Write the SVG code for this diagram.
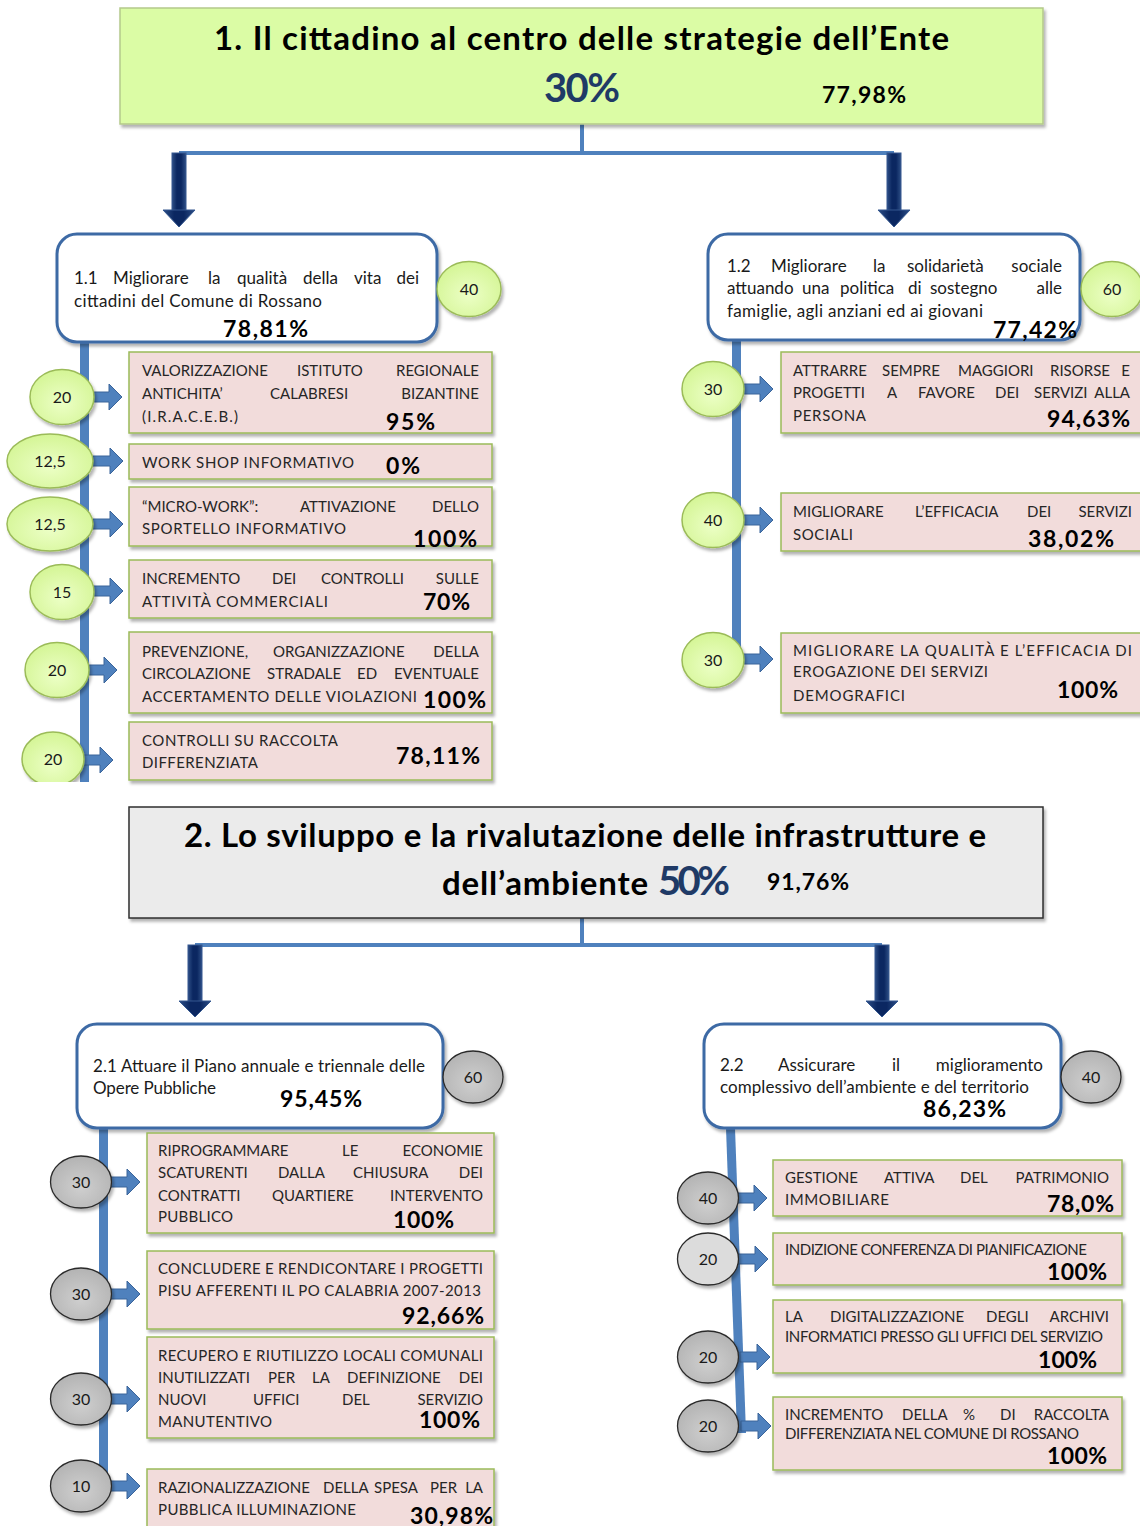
<svg xmlns="http://www.w3.org/2000/svg" width="1140" height="1526" viewBox="0 0 1140 1526">
<style>
text{font-family:Lato,"Liberation Sans",sans-serif}
.t{font-size:15px;fill:#262626}
.m{font-size:17px;fill:#1a1a1a}
.p{font-size:23px;font-weight:700;fill:#000}
.ttl{font-size:33px;font-weight:700;fill:#000}
.big{font-size:40px;font-weight:700;fill:#1f3a66}
.ct{font-size:16px;fill:#1a1a1a;text-anchor:middle}
.e{text-anchor:end}
.pink{fill:#f2dcdb;stroke:#9bbb59;stroke-width:1.5}
.wb{fill:#fff;stroke:#3d6aa5;stroke-width:3}
.gc{fill:url(#gg);stroke:#9bbb59;stroke-width:1.5}
.yc{fill:url(#gy);stroke:#2a2a2a;stroke-width:1.3}
.yl{fill:#dcdcdc;stroke:#2a2a2a;stroke-width:1.3}
.bar{fill:#4f81bd}
.sa{fill:#4f81bd;stroke:#3a649a;stroke-width:1}
.ln{stroke:#4f81bd;stroke-width:4;fill:none}
.da{fill:url(#gd);stroke:#34578f;stroke-width:1}
</style>
<defs>
<filter id="sh" x="-10%" y="-10%" width="125%" height="135%"><feDropShadow dx="2" dy="3" stdDeviation="1.5" flood-color="#000" flood-opacity="0.3"/></filter>
<radialGradient id="gg" cx="50%" cy="60%" r="60%"><stop offset="0" stop-color="#ecffc6"/><stop offset="1" stop-color="#d4f595"/></radialGradient>
<radialGradient id="gy" cx="50%" cy="60%" r="60%"><stop offset="0" stop-color="#cfcfcf"/><stop offset="1" stop-color="#b3b3b3"/></radialGradient>
<linearGradient id="gd" x1="0" y1="0" x2="1" y2="0"><stop offset="0" stop-color="#2e4f86"/><stop offset="0.35" stop-color="#0b2761"/><stop offset="0.65" stop-color="#0b2761"/><stop offset="1" stop-color="#2e4f86"/></linearGradient>
<path id="sarr" class="sa" d="M0,-5H17V-13L30,0L17,13V5H0Z"/>
<clipPath id="c1"><rect x="0" y="0" width="1140" height="782"/></clipPath>
</defs>

<!-- connectors -->
<g id="connectors">
<path class="ln" d="M582,124V153M179,153H894"/>
<rect class="da" x="172" y="153" width="14" height="58"/>
<polygon class="da" points="163,210 195,210 179,227"/>
<rect class="da" x="887" y="153" width="14" height="58"/>
<polygon class="da" points="878,210 910,210 894,227"/>
<path class="ln" d="M582,918V945M195,945H882"/>
<rect class="da" x="188" y="945" width="14" height="57"/>
<polygon class="da" points="179,1001 211,1001 195,1017"/>
<rect class="da" x="875" y="945" width="14" height="57"/>
<polygon class="da" points="866,1001 898,1001 882,1017"/>
<rect class="bar" x="80" y="342" width="9" height="440"/>
<rect class="bar" x="732" y="340" width="9" height="320"/>
<rect class="bar" x="99" y="1128" width="9" height="362"/>
<polygon class="bar" points="726,1128 735,1128 746,1433 737,1433"/>
<use href="#sarr" x="92" y="397"/>
<use href="#sarr" x="93" y="461"/>
<use href="#sarr" x="93" y="524"/>
<use href="#sarr" x="93" y="591"/>
<use href="#sarr" x="87" y="670"/>
<use href="#sarr" x="83" y="760"/>
<use href="#sarr" x="743" y="389"/>
<use href="#sarr" x="743" y="520"/>
<use href="#sarr" x="743" y="659"/>
<use href="#sarr" x="110" y="1182"/>
<use href="#sarr" x="110" y="1294"/>
<use href="#sarr" x="110" y="1399"/>
<use href="#sarr" x="110" y="1486"/>
<use href="#sarr" x="737" y="1198"/>
<use href="#sarr" x="738" y="1259"/>
<use href="#sarr" x="740" y="1357"/>
<use href="#sarr" x="741" y="1426"/>
</g>

<!-- goal 1 -->
<g id="goal1">
<rect x="120" y="8" width="923" height="116" fill="#dbfca5" stroke="#b4c98b" stroke-width="1.5" filter="url(#sh)"/>
<text class="ttl" x="214" y="50" textLength="735">1. Il cittadino al centro delle strategie dell’Ente</text>
<text class="big" x="544" y="102" textLength="76">30%</text>
<text class="p" x="822" y="103" textLength="84">77,98%</text>
</g>

<g id="obj11">
<rect class="wb" x="57" y="234" width="380" height="108" rx="20" filter="url(#sh)"/>
<text class="m" y="284"><tspan x="74">1.1</tspan><tspan x="113">Migliorare</tspan><tspan x="208">la</tspan><tspan x="237">qualità</tspan><tspan x="303">della</tspan><tspan x="354">vita</tspan><tspan x="419" class="e">dei</tspan></text>
<text class="m" x="74" y="307" textLength="248">cittadini del Comune di Rossano</text>
<text class="p" x="223" y="337" textLength="85">78,81%</text>
</g>
<g id="w11"><ellipse class="gc" cx="469" cy="289" rx="32" ry="27.5" filter="url(#sh)"/><text class="ct" x="469" y="295">40</text></g>

<g id="a1">
<rect class="pink" x="129" y="352" width="363" height="81" filter="url(#sh)"/>
<text class="t" y="376"><tspan x="142">VALORIZZAZIONE</tspan><tspan x="297">ISTITUTO</tspan><tspan x="479" class="e">REGIONALE</tspan></text>
<text class="t" y="399"><tspan x="142">ANTICHITA’</tspan><tspan x="270">CALABRESI</tspan><tspan x="479" class="e">BIZANTINE</tspan></text>
<text class="t" x="142" y="422" textLength="96">(I.R.A.C.E.B.)</text>
<text class="p" x="386" y="430" textLength="49">95%</text>
</g>
<g id="a2">
<rect class="pink" x="129" y="444" width="363" height="35" filter="url(#sh)"/>
<text class="t" x="142" y="468" textLength="212">WORK SHOP INFORMATIVO</text>
<text class="p" x="386" y="474" textLength="34">0%</text>
</g>
<g id="a3">
<rect class="pink" x="129" y="487" width="363" height="59" filter="url(#sh)"/>
<text class="t" y="512"><tspan x="142">“MICRO-WORK”:</tspan><tspan x="300">ATTIVAZIONE</tspan><tspan x="479" class="e">DELLO</tspan></text>
<text class="t" x="142" y="534" textLength="204">SPORTELLO INFORMATIVO</text>
<text class="p" x="413" y="547" textLength="64">100%</text>
</g>
<g id="a4">
<rect class="pink" x="129" y="560" width="363" height="58" filter="url(#sh)"/>
<text class="t" y="584"><tspan x="142">INCREMENTO</tspan><tspan x="272">DEI</tspan><tspan x="321">CONTROLLI</tspan><tspan x="479" class="e">SULLE</tspan></text>
<text class="t" x="142" y="607" textLength="186">ATTIVITÀ COMMERCIALI</text>
<text class="p" x="423" y="610" textLength="47">70%</text>
</g>
<g id="a5">
<rect class="pink" x="129" y="632" width="363" height="81" filter="url(#sh)"/>
<text class="t" y="657"><tspan x="142">PREVENZIONE,</tspan><tspan x="273">ORGANIZZAZIONE</tspan><tspan x="479" class="e">DELLA</tspan></text>
<text class="t" y="679"><tspan x="142">CIRCOLAZIONE</tspan><tspan x="267">STRADALE</tspan><tspan x="357">ED</tspan><tspan x="479" class="e">EVENTUALE</tspan></text>
<text class="t" x="142" y="702" textLength="275">ACCERTAMENTO DELLE VIOLAZIONI</text>
<text class="p" x="423" y="708" textLength="63">100%</text>
</g>
<g id="a6">
<rect class="pink" x="129" y="722" width="363" height="58" filter="url(#sh)"/>
<text class="t" x="142" y="746" textLength="196">CONTROLLI SU RACCOLTA</text>
<text class="t" x="142" y="768" textLength="116">DIFFERENZIATA</text>
<text class="p" x="396" y="764" textLength="84">78,11%</text>
</g>
<g id="wa1"><ellipse class="gc" cx="62" cy="397" rx="32" ry="27.5" filter="url(#sh)"/><text class="ct" x="62" y="403">20</text></g>
<g id="wa2"><ellipse class="gc" cx="50" cy="461" rx="43" ry="27" filter="url(#sh)"/><text class="ct" x="50" y="467">12,5</text></g>
<g id="wa3"><ellipse class="gc" cx="50" cy="524" rx="43" ry="27" filter="url(#sh)"/><text class="ct" x="50" y="530">12,5</text></g>
<g id="wa4"><ellipse class="gc" cx="62" cy="592" rx="32" ry="27.5" filter="url(#sh)"/><text class="ct" x="62" y="598">15</text></g>
<g id="wa5"><ellipse class="gc" cx="57" cy="670" rx="32" ry="27.5" filter="url(#sh)"/><text class="ct" x="57" y="676">20</text></g>
<g id="wa6" clip-path="url(#c1)"><ellipse class="gc" cx="53" cy="759" rx="31" ry="27" filter="url(#sh)"/><text class="ct" x="53" y="765">20</text></g>

<g id="obj12">
<rect class="wb" x="708" y="234" width="372" height="106" rx="20" filter="url(#sh)"/>
<text class="m" y="272"><tspan x="727">1.2</tspan><tspan x="771">Migliorare</tspan><tspan x="873">la</tspan><tspan x="907">solidarietà</tspan><tspan x="1062" class="e">sociale</tspan></text>
<text class="m" y="294"><tspan x="727">attuando</tspan><tspan x="802">una</tspan><tspan x="840">politica</tspan><tspan x="908">di</tspan><tspan x="930">sostegno</tspan><tspan x="1062" class="e">alle</tspan></text>
<text class="m" x="727" y="317" textLength="256">famiglie, agli anziani ed ai giovani</text>
<text class="p" x="993" y="338" textLength="84">77,42%</text>
</g>
<g id="w12"><ellipse class="gc" cx="1112" cy="289" rx="31" ry="27.5" filter="url(#sh)"/><text class="ct" x="1112" y="295">60</text></g>

<g id="b1">
<rect class="pink" x="781" y="352" width="370" height="81" filter="url(#sh)"/>
<text class="t" y="376"><tspan x="793">ATTRARRE</tspan><tspan x="882">SEMPRE</tspan><tspan x="958">MAGGIORI</tspan><tspan x="1050">RISORSE</tspan><tspan x="1130" class="e">E</tspan></text>
<text class="t" y="398"><tspan x="793">PROGETTI</tspan><tspan x="887">A</tspan><tspan x="918">FAVORE</tspan><tspan x="995">DEI</tspan><tspan x="1034">SERVIZI</tspan><tspan x="1130" class="e">ALLA</tspan></text>
<text class="t" x="793" y="421" textLength="73">PERSONA</text>
<text class="p" x="1047" y="427" textLength="83">94,63%</text>
</g>
<g id="b2">
<rect class="pink" x="781" y="493" width="370" height="58" filter="url(#sh)"/>
<text class="t" y="517"><tspan x="793">MIGLIORARE</tspan><tspan x="915">L’EFFICACIA</tspan><tspan x="1027">DEI</tspan><tspan x="1132" class="e">SERVIZI</tspan></text>
<text class="t" x="793" y="540" textLength="60">SOCIALI</text>
<text class="p" x="1028" y="547" textLength="86">38,02%</text>
</g>
<g id="b3">
<rect class="pink" x="781" y="633" width="370" height="80" filter="url(#sh)"/>
<text class="t" x="793" y="656" textLength="339">MIGLIORARE LA QUALITÀ E L’EFFICACIA DI</text>
<text class="t" x="793" y="677" textLength="195">EROGAZIONE DEI SERVIZI</text>
<text class="t" x="793" y="701" textLength="112">DEMOGRAFICI</text>
<text class="p" x="1057" y="698" textLength="61">100%</text>
</g>
<g id="wb1"><ellipse class="gc" cx="713" cy="389" rx="31" ry="27.5" filter="url(#sh)"/><text class="ct" x="713" y="395">30</text></g>
<g id="wb2"><ellipse class="gc" cx="713" cy="520" rx="31" ry="27.5" filter="url(#sh)"/><text class="ct" x="713" y="526">40</text></g>
<g id="wb3"><ellipse class="gc" cx="713" cy="660" rx="31" ry="27.5" filter="url(#sh)"/><text class="ct" x="713" y="666">30</text></g>

<!-- goal 2 -->
<g id="goal2">
<rect x="129" y="807" width="914" height="111" fill="#ebebeb" stroke="#2f2f2f" stroke-width="1.5" filter="url(#sh)"/>
<text class="ttl" x="184" y="847" textLength="802">2. Lo sviluppo e la rivalutazione delle infrastrutture e</text>
<text class="ttl" x="442" y="895" textLength="206">dell’ambiente</text>
<text class="big" x="658" y="895" font-size="38" textLength="72">50%</text>
<text class="p" x="767" y="890" font-size="22" textLength="82">91,76%</text>
</g>

<g id="obj21">
<rect class="wb" x="77" y="1024" width="366" height="104" rx="20" filter="url(#sh)"/>
<text class="m" x="93" y="1072" textLength="332">2.1 Attuare il Piano annuale e triennale delle</text>
<text class="m" x="93" y="1094" textLength="123">Opere Pubbliche</text>
<text class="p" x="280" y="1107" textLength="82">95,45%</text>
</g>
<g id="w21"><ellipse class="yc" cx="473" cy="1077" rx="30" ry="26" filter="url(#sh)"/><text class="ct" x="473" y="1083">60</text></g>

<g id="c1b">
<rect class="pink" x="147" y="1133" width="347" height="100" filter="url(#sh)"/>
<text class="t" y="1156"><tspan x="158">RIPROGRAMMARE</tspan><tspan x="342">LE</tspan><tspan x="483" class="e">ECONOMIE</tspan></text>
<text class="t" y="1178"><tspan x="158">SCATURENTI</tspan><tspan x="278">DALLA</tspan><tspan x="353">CHIUSURA</tspan><tspan x="483" class="e">DEI</tspan></text>
<text class="t" y="1201"><tspan x="158">CONTRATTI</tspan><tspan x="272">QUARTIERE</tspan><tspan x="483" class="e">INTERVENTO</tspan></text>
<text class="t" x="158" y="1222" textLength="75">PUBBLICO</text>
<text class="p" x="393" y="1228" textLength="61">100%</text>
</g>
<g id="c2">
<rect class="pink" x="147" y="1251" width="347" height="78" filter="url(#sh)"/>
<text class="t" x="158" y="1274" textLength="325">CONCLUDERE E RENDICONTARE I PROGETTI</text>
<text class="t" x="158" y="1296" textLength="323">PISU AFFERENTI IL PO CALABRIA 2007-2013</text>
<text class="p" x="402" y="1324" textLength="82">92,66%</text>
</g>
<g id="c3">
<rect class="pink" x="147" y="1337" width="347" height="101" filter="url(#sh)"/>
<text class="t" x="158" y="1361" textLength="325">RECUPERO E RIUTILIZZO LOCALI COMUNALI</text>
<text class="t" y="1383"><tspan x="158">INUTILIZZATI</tspan><tspan x="268">PER</tspan><tspan x="312">LA</tspan><tspan x="347">DEFINIZIONE</tspan><tspan x="483" class="e">DEI</tspan></text>
<text class="t" y="1405"><tspan x="158">NUOVI</tspan><tspan x="253">UFFICI</tspan><tspan x="342">DEL</tspan><tspan x="483" class="e">SERVIZIO</tspan></text>
<text class="t" x="158" y="1427" textLength="114">MANUTENTIVO</text>
<text class="p" x="419" y="1428" textLength="61">100%</text>
</g>
<g id="c4">
<rect class="pink" x="147" y="1469" width="347" height="70" filter="url(#sh)"/>
<text class="t" y="1493"><tspan x="158">RAZIONALIZZAZIONE</tspan><tspan x="323">DELLA</tspan><tspan x="374">SPESA</tspan><tspan x="430">PER</tspan><tspan x="483" class="e">LA</tspan></text>
<text class="t" x="158" y="1515" textLength="198">PUBBLICA ILLUMINAZIONE</text>
<text class="p" x="410" y="1524" textLength="83">30,98%</text>
</g>
<g id="wc1"><ellipse class="yc" cx="81" cy="1182" rx="30.5" ry="26" filter="url(#sh)"/><text class="ct" x="81" y="1188">30</text></g>
<g id="wc2"><ellipse class="yc" cx="81" cy="1294" rx="30.5" ry="26" filter="url(#sh)"/><text class="ct" x="81" y="1300">30</text></g>
<g id="wc3"><ellipse class="yc" cx="81" cy="1399" rx="30.5" ry="26" filter="url(#sh)"/><text class="ct" x="81" y="1405">30</text></g>
<g id="wc4"><ellipse class="yc" cx="81" cy="1486" rx="30.5" ry="26" filter="url(#sh)"/><text class="ct" x="81" y="1492">10</text></g>

<g id="obj22">
<rect class="wb" x="704" y="1024" width="357" height="104" rx="20" filter="url(#sh)"/>
<text class="m" y="1071"><tspan x="720">2.2</tspan><tspan x="778">Assicurare</tspan><tspan x="892">il</tspan><tspan x="1043" class="e">miglioramento</tspan></text>
<text class="m" x="720" y="1093" textLength="309">complessivo dell’ambiente e del territorio</text>
<text class="p" x="923" y="1117" textLength="83">86,23%</text>
</g>
<g id="w22"><ellipse class="yc" cx="1091" cy="1077" rx="30" ry="26" filter="url(#sh)"/><text class="ct" x="1091" y="1083">40</text></g>

<g id="d1">
<rect class="pink" x="773" y="1160" width="349" height="56" filter="url(#sh)"/>
<text class="t" y="1183"><tspan x="785">GESTIONE</tspan><tspan x="884">ATTIVA</tspan><tspan x="960">DEL</tspan><tspan x="1109" class="e">PATRIMONIO</tspan></text>
<text class="t" x="785" y="1205" textLength="104">IMMOBILIARE</text>
<text class="p" x="1047" y="1212" textLength="67">78,0%</text>
</g>
<g id="d2">
<rect class="pink" x="773" y="1233" width="349" height="52" filter="url(#sh)"/>
<text class="t" x="785" y="1255" textLength="302">INDIZIONE CONFERENZA DI PIANIFICAZIONE</text>
<text class="p" x="1047" y="1280" textLength="60">100%</text>
</g>
<g id="d3">
<rect class="pink" x="773" y="1300" width="349" height="73" filter="url(#sh)"/>
<text class="t" y="1322"><tspan x="785">LA</tspan><tspan x="830">DIGITALIZZAZIONE</tspan><tspan x="986">DEGLI</tspan><tspan x="1109" class="e">ARCHIVI</tspan></text>
<text class="t" x="785" y="1342" textLength="318">INFORMATICI PRESSO GLI UFFICI DEL SERVIZIO</text>
<text class="p" x="1038" y="1368" textLength="59">100%</text>
</g>
<g id="d4">
<rect class="pink" x="773" y="1397" width="349" height="73" filter="url(#sh)"/>
<text class="t" y="1420"><tspan x="785">INCREMENTO</tspan><tspan x="902">DELLA</tspan><tspan x="963">%</tspan><tspan x="1000">DI</tspan><tspan x="1109" class="e">RACCOLTA</tspan></text>
<text class="t" x="785" y="1439" textLength="294">DIFFERENZIATA NEL COMUNE DI ROSSANO</text>
<text class="p" x="1047" y="1464" textLength="60">100%</text>
</g>
<g id="wd1"><ellipse class="yc" cx="708" cy="1198" rx="30.5" ry="26" filter="url(#sh)"/><text class="ct" x="708" y="1204">40</text></g>
<g id="wd2"><ellipse class="yl" cx="708" cy="1259" rx="30.5" ry="26" filter="url(#sh)"/><text class="ct" x="708" y="1265">20</text></g>
<g id="wd3"><ellipse class="yc" cx="708" cy="1357" rx="30.5" ry="26" filter="url(#sh)"/><text class="ct" x="708" y="1363">20</text></g>
<g id="wd4"><ellipse class="yc" cx="708" cy="1426" rx="30.5" ry="26" filter="url(#sh)"/><text class="ct" x="708" y="1432">20</text></g>
</svg>
